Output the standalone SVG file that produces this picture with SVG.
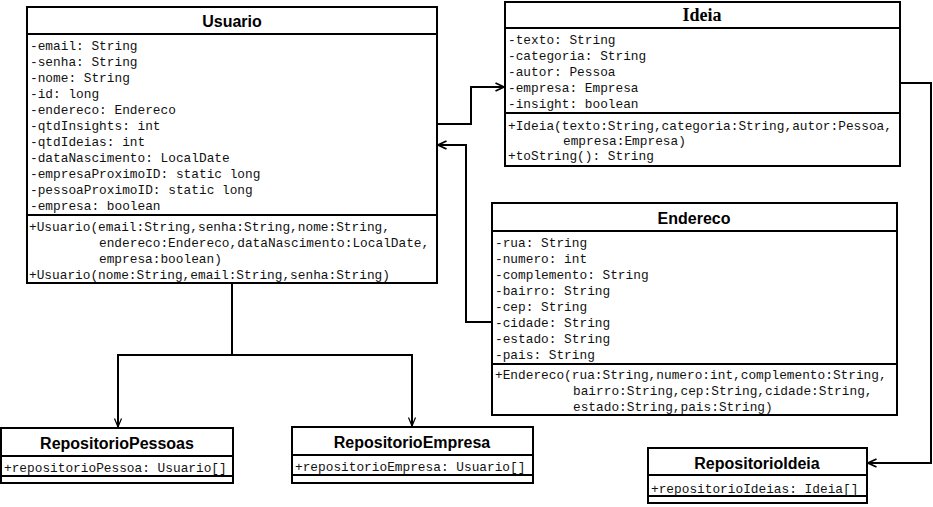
<svg xmlns="http://www.w3.org/2000/svg" width="933" height="507" viewBox="0 0 933 507">
<style>
.box{fill:#fff;stroke:#000;stroke-width:2}
.sep{stroke:#000;stroke-width:2}
.t{font-family:"Liberation Sans",Arial,sans-serif;font-weight:bold;font-size:16px;fill:#000;text-anchor:middle}
.ts{font-family:"Liberation Serif","Times New Roman",serif;font-weight:bold;font-size:18px;fill:#000;text-anchor:middle}
.m{font-family:"Liberation Mono","Courier New",monospace;font-size:12.8px;fill:#111}
.c{fill:none;stroke:#000;stroke-width:2}
</style>
<defs>
<marker id="a" viewBox="0 0 10 10" refX="9.5" refY="5" markerWidth="10" markerHeight="10" markerUnits="userSpaceOnUse" orient="auto">
<path d="M1,1 L9.5,5 L1,9" fill="none" stroke="#000" stroke-width="1.8"/>
</marker>
<marker id="b" viewBox="0 0 10 10" refX="9.5" refY="5" markerWidth="10" markerHeight="10" markerUnits="userSpaceOnUse" orient="auto">
<path d="M1,1.5 L9.5,5 L1,8.5" fill="none" stroke="#000" stroke-width="1.2"/>
</marker>
</defs>
<rect width="933" height="507" fill="#fff"/>

<g id="connectors">
<path class="c" d="M437,124 H471 V87 H504" marker-end="url(#a)"/>
<path class="c" d="M492,322 H466 V145 H438" marker-end="url(#a)"/>
<path class="c" d="M900,83 H931 V463 H868" marker-end="url(#a)"/>
<path class="c" d="M232,283 V355 H118 V427" marker-end="url(#b)"/>
<path class="c" d="M232,355 H412 V426" marker-end="url(#b)"/>
</g>

<g id="Usuario">
<rect class="box" x="27" y="7" width="410" height="276"/>
<line class="sep" x1="27" y1="34" x2="437" y2="34"/>
<line class="sep" x1="27" y1="215" x2="437" y2="215"/>
<text class="t" x="232" y="27">Usuario</text>
<text class="m" x="30" y="50">-email: String</text>
<text class="m" x="30" y="66">-senha: String</text>
<text class="m" x="30" y="82">-nome: String</text>
<text class="m" x="30" y="98">-id: long</text>
<text class="m" x="30" y="114">-endereco: Endereco</text>
<text class="m" x="30" y="130">-qtdInsights: int</text>
<text class="m" x="30" y="146">-qtdIdeias: int</text>
<text class="m" x="30" y="162">-dataNascimento: LocalDate</text>
<text class="m" x="30" y="178">-empresaProximoID: static long</text>
<text class="m" x="30" y="194">-pessoaProximoID: static long</text>
<text class="m" x="30" y="210">-empresa: boolean</text>
<text class="m" x="29" y="231">+Usuario(email:String,senha:String,nome:String,</text>
<text class="m" x="99" y="247">endereco:Endereco,dataNascimento:LocalDate,</text>
<text class="m" x="99" y="263">empresa:boolean)</text>
<text class="m" x="29" y="279">+Usuario(nome:String,email:String,senha:String)</text>
</g>

<g id="Ideia">
<rect class="box" x="505" y="2" width="395" height="164"/>
<line class="sep" x1="505" y1="28" x2="900" y2="28"/>
<line class="sep" x1="505" y1="113" x2="900" y2="113"/>
<text class="ts" x="702" y="21">Ideia</text>
<text class="m" x="508" y="44">-texto: String</text>
<text class="m" x="508" y="60">-categoria: String</text>
<text class="m" x="508" y="76">-autor: Pessoa</text>
<text class="m" x="508" y="92">-empresa: Empresa</text>
<text class="m" x="508" y="108">-insight: boolean</text>
<text class="m" x="508" y="130">+Ideia(texto:String,categoria:String,autor:Pessoa,</text>
<text class="m" x="563" y="145">empresa:Empresa)</text>
<text class="m" x="508" y="160">+toString(): String</text>
</g>

<g id="Endereco">
<rect class="box" x="492" y="203" width="405" height="212"/>
<line class="sep" x1="492" y1="231" x2="897" y2="231"/>
<line class="sep" x1="492" y1="364" x2="897" y2="364"/>
<text class="t" x="694" y="224">Endereco</text>
<text class="m" x="495" y="247">-rua: String</text>
<text class="m" x="495" y="263">-numero: int</text>
<text class="m" x="495" y="279">-complemento: String</text>
<text class="m" x="495" y="295">-bairro: String</text>
<text class="m" x="495" y="311">-cep: String</text>
<text class="m" x="495" y="327">-cidade: String</text>
<text class="m" x="495" y="343">-estado: String</text>
<text class="m" x="495" y="359">-pais: String</text>
<text class="m" x="495" y="379">+Endereco(rua:String,numero:int,complemento:String,</text>
<text class="m" x="573" y="395">bairro:String,cep:String,cidade:String,</text>
<text class="m" x="573" y="411">estado:String,pais:String)</text>
</g>

<g id="RepositorioPessoas">
<rect class="box" x="1" y="428" width="232" height="55"/>
<line class="sep" x1="1" y1="456" x2="233" y2="456"/>
<line class="sep" x1="1" y1="476" x2="233" y2="476"/>
<text class="t" x="117" y="449">RepositorioPessoas</text>
<text class="m" x="4" y="472">+repositorioPessoa: Usuario[]</text>
</g>

<g id="RepositorioEmpresa">
<rect class="box" x="292" y="427" width="241" height="56"/>
<line class="sep" x1="292" y1="455" x2="533" y2="455"/>
<line class="sep" x1="292" y1="475" x2="533" y2="475"/>
<text class="t" x="412" y="448">RepositorioEmpresa</text>
<text class="m" x="295" y="471">+repositorioEmpresa: Usuario[]</text>
</g>

<g id="RepositorioIdeia">
<rect class="box" x="648" y="448" width="219" height="55"/>
<line class="sep" x1="648" y1="475" x2="867" y2="475"/>
<line class="sep" x1="648" y1="496" x2="867" y2="496"/>
<text class="t" x="757" y="469">RepositorioIdeia</text>
<text class="m" x="651" y="493">+repositorioIdeias: Ideia[]</text>
</g>
</svg>
